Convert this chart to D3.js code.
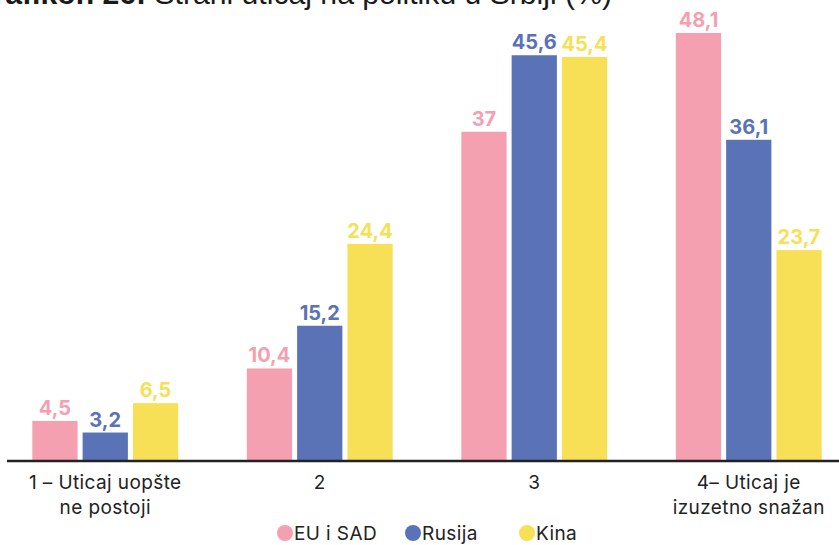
<!DOCTYPE html>
<html>
<head>
<meta charset="utf-8">
<script src="https://cdn.jsdelivr.net/npm/d3@7"></script>
<style>
  body { margin: 0; background: #fff; overflow: hidden; }
  svg { display: block; font-family: Inter, "Noto Sans", sans-serif; }
</style>
</head>
<body>
<div id="chart"></div>
<script>
// Values
const categories = [["1 – Uticaj uopšte", "ne postoji"], ["2"], ["3"], ["4– Uticaj je", "izuzetno snažan"]];
const series = ["EU i SAD", "Rusija", "Kina"];
const euSad = [4.5, 10.4, 37, 48.1];
const rusija = [3.2, 15.2, 45.6, 36.1];
const kina = [6.5, 24.4, 45.4, 23.7];
const colors = ["#f5a0b0", "#5a72b6", "#f7e055"];

const width = 839;
const height = 545;
const baseY = 461;

const svg = d3.select("#chart")
    .append("svg")
    .attr("width", width)
    .attr("height", height);

// title, cut off at the top and left like in the source
const title = svg.append("text")
    .attr("x", 612)
    .attr("y", 4)
    .attr("text-anchor", "end")
    .style("font-family", "'Liberation Sans', Arial, sans-serif")
    .style("font-size", "26px")
    .style("fill", "#1a1a1a")
    .html('<tspan font-weight="700">Grafikon 26:</tspan> Strani uticaj na politiku u Srbiji (%)');
// stretch so that "Gr" falls just off the left edge
const tw = title.node().getComputedTextLength();
title.style("font-size", (26 * 642 / tw) + "px");

const x0 = d3.scaleBand()
    .domain(d3.range(categories.length))
    .range([-2, 856])
    .paddingInner(0.32)
    .paddingOuter(0.16);

const x1 = d3.scaleBand()
    .domain(series)
    .range([0, x0.bandwidth()])
    .paddingInner(0.1);

const y = d3.scaleLinear()
    .domain([0, 48.1])
    .range([baseY, 33]);

const rows = [];
categories.forEach(function(c, i) {
    [euSad, rusija, kina].forEach(function(s, j) {
        rows.push({cat: i, name: series[j], value: s[i], color: colors[j]});
    });
});

svg.selectAll("rect.bar")
    .data(rows)
    .enter()
    .append("rect")
        .attr("class", "bar")
        .attr("x", function(d) { return x0(d.cat) + x1(d.name); })
        .attr("y", function(d) { return y(d.value); })
        .attr("width", x1.bandwidth())
        .attr("height", function(d) { return baseY - y(d.value); })
        .attr("fill", function(d) { return d.color; });

svg.selectAll("text.val")
    .data(rows)
    .enter()
    .append("text")
        .attr("class", "val")
        .attr("x", function(d) { return x0(d.cat) + x1(d.name) + x1.bandwidth() / 2; })
        .attr("y", function(d) { return y(d.value) - 6; })
        .attr("text-anchor", "middle")
        .style("font-size", "20px")
        .style("font-weight", "700")
        .style("fill", function(d) { return d.color; })
        .text(function(d) { return String(d.value).replace(".", ","); });

// baseline
svg.append("line")
    .attr("x1", 7)
    .attr("x2", 839)
    .attr("y1", baseY)
    .attr("y2", baseY)
    .attr("stroke", "#222")
    .attr("stroke-width", 2.5);

// category labels
const catLabels = svg.selectAll("text.cat")
    .data(categories)
    .enter()
    .append("text")
        .attr("class", "cat")
        .attr("text-anchor", "middle")
        .style("font-size", "19px")
        .style("letter-spacing", "0.4px")
        .style("fill", "#222");

catLabels.selectAll("tspan")
    .data(function(d, i) { return d.map(function(t) { return {t: t, i: i}; }); })
    .enter()
    .append("tspan")
        .attr("x", function(d) { return x0(d.i) + x0.bandwidth() / 2; })
        .attr("y", function(d, k) { return 489 + k * 25; })
        .text(function(d) { return d.t; });

// legend
const legendX = [285, 413, 527];
const legend = svg.selectAll("g.legend")
    .data(series)
    .enter()
    .append("g")
        .attr("class", "legend")
        .attr("transform", function(d, i) { return `translate(${legendX[i]},533)`; });

legend.append("circle")
    .attr("r", 8)
    .attr("fill", function(d, i) { return colors[i]; });

legend.append("text")
    .attr("x", 9)
    .attr("y", 7)
    .style("font-size", "19px")
    .style("letter-spacing", "0.4px")
    .style("fill", "#222")
    .text(function(d) { return d; });
</script>
</body>
</html>
